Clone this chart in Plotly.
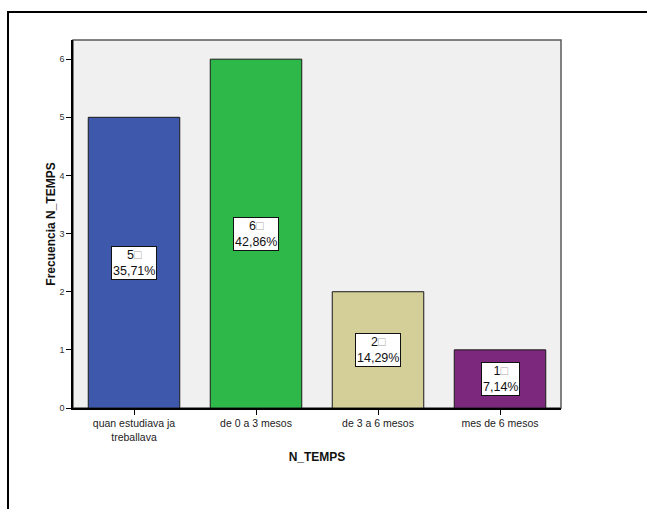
import plotly.graph_objects as go

categories = ["quan estudiava ja<br>treballava", "de 0 a 3 mesos", "de 3 a 6 mesos", "mes de 6 mesos"]
counts = [5, 6, 2, 1]
pct_labels = ["35,71%", "42,86%", "14,29%", "7,14%"]
bar_colors = ["#3e58ab", "#2eb84a", "#d4cf99", "#7c287d"]
y_ticks = [0, 1, 2, 3, 4, 5, 6]

FONT = "Liberation Sans, Arial, sans-serif"

fig = go.Figure()
fig.add_trace(go.Bar(
    x=categories, y=counts,
    marker=dict(color=bar_colors, line=dict(color="#1a1a1a", width=1)),
    width=0.75, hoverinfo="skip",
))

for c, v, p in zip(categories, counts, pct_labels):
    fig.add_annotation(
        x=c, y=v / 2, xref="x", yref="y",
        text=f"{v}<span style='color:#aaaaaa'>□</span><br>{p}",
        showarrow=False, bgcolor="white", bordercolor="#111111", borderwidth=1,
        borderpad=1, font=dict(family=FONT, size=12.5, color="#111111"),
    )

W, H = 647, 509
L, R, T, B = 73, 561, 40, 408
pw, ph = R - L, B - T

# outer frame (top and left lines visible)
fig.add_shape(type="rect", xref="paper", yref="paper",
              x0=(8 - L) / pw, x1=(660 - L) / pw,
              y0=(B - 530) / ph, y1=(B - 12) / ph,
              line=dict(color="black", width=2), fillcolor="rgba(0,0,0,0)", layer="below")
# plot area frame
fig.add_shape(type="rect", xref="paper", yref="paper", x0=0, x1=1, y0=0, y1=1,
              line=dict(color="#5a5a5a", width=1.5), fillcolor="#f0f0f0", layer="below")

fig.update_layout(
    width=W, height=H,
    margin=dict(l=L, r=W - R, t=T, b=H - B, pad=0),
    paper_bgcolor="white", plot_bgcolor="#f0f0f0",
    showlegend=False,
    font=dict(family=FONT, color="#222222"),
    xaxis=dict(
        showline=True, linecolor="black", linewidth=1.5,
        ticks="outside", ticklen=5, tickcolor="black",
        tickfont=dict(size=10.5, family=FONT, color="#222222"),
        title=dict(text="<b>N_TEMPS</b>", font=dict(size=12, family=FONT, color="#111111"), standoff=11),
        showgrid=False, automargin=False,
    ),
    yaxis=dict(
        range=[0, 6.33], tickvals=y_ticks,
        showline=True, linecolor="black", linewidth=1.5,
        ticks="outside", ticklen=5, tickcolor="black",
        tickfont=dict(size=9, family=FONT, color="#333333"),
        title=dict(text="<b>Frecuencia N_TEMPS</b>", font=dict(size=12, family=FONT, color="#111111"), standoff=1),
        showgrid=False, zeroline=False, automargin=False,
    ),
    bargap=0.25,
)

fig.write_html("out.html", config={"displayModeBar": False},
               post_script="document.body.style.margin='0';document.body.style.overflow='hidden';")
